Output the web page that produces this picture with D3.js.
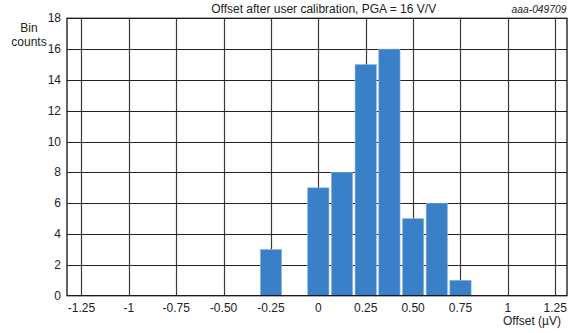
<!DOCTYPE html>
<html><head><meta charset="utf-8">
<script src="https://cdn.jsdelivr.net/npm/d3@7"></script>
<style>body{margin:0;background:#fff}svg{display:block;font-family:"Liberation Sans",Arial,sans-serif}</style>
</head><body><svg id="c" width="572" height="333"></svg>
<script>
const binCenters = [-0.25, 0, 0.125, 0.25, 0.375, 0.5, 0.625, 0.75];
const binCounts = [3, 7, 8, 15, 16, 5, 6, 1];
const binWidth = 0.125;
const xTicks = [-1.25, -1, -0.75, -0.5, -0.25, 0, 0.25, 0.5, 0.75, 1, 1.25];
const xTickLabels = ["-1.25", "-1", "-0.75", "-0.50", "-0.25", "0", "0.25", "0.50", "0.75", "1", "1.25"];
const yTicks = [0, 2, 4, 6, 8, 10, 12, 14, 16, 18];
const title = "Offset after user calibration, PGA = 16 V/V";
const code = "aaa-049709";

const svg = d3.select("#c");
const L = 67, R = 567, T = 18.3, B = 295.7;
const x = d3.scaleLinear().domain([-1.326, 1.312]).range([L, R]);
const y = d3.scaleLinear().domain([0, 18]).range([B, T]);

// grid
svg.append("g").selectAll("line").data(xTicks).join("line")
  .attr("x1", d => Math.round(x(d)) + 0.5).attr("x2", d => Math.round(x(d)) + 0.5)
  .attr("y1", T).attr("y2", B).attr("stroke", "#3a3a3a").attr("stroke-width", 1.2);
svg.append("g").selectAll("line").data(yTicks.slice(1, -1)).join("line")
  .attr("y1", d => Math.round(y(d)) + 0.5).attr("y2", d => Math.round(y(d)) + 0.5)
  .attr("x1", L).attr("x2", R).attr("stroke", "#222").attr("stroke-width", 1.2);

// bars
svg.append("g").selectAll("rect").data(binCenters).join("rect")
  .attr("x", d => x(d - binWidth / 2) + 1.2)
  .attr("width", d => x(d + binWidth / 2) - x(d - binWidth / 2) - 2.4)
  .attr("y", (d, i) => y(binCounts[i]))
  .attr("height", (d, i) => B - y(binCounts[i]))
  .attr("fill", "#3a80c9").attr("stroke", "#8fb8e4").attr("stroke-width", 0.6);

// frame
svg.append("rect").attr("x", L).attr("y", T).attr("width", R - L).attr("height", B - T)
  .attr("fill", "none").attr("stroke", "#111").attr("stroke-width", 1.3);

const fs = 12;
// x axis labels
svg.append("g").selectAll("text").data(xTicks).join("text")
  .attr("x", d => x(d)).attr("y", 311.5).attr("text-anchor", "middle")
  .attr("font-size", fs).attr("fill", "#222").text((d, i) => xTickLabels[i]);
// y axis labels
svg.append("g").selectAll("text").data(yTicks).join("text")
  .attr("x", 61).attr("y", d => y(d) + 4).attr("text-anchor", "end")
  .attr("font-size", fs).attr("fill", "#222").text(d => d);

svg.append("text").attr("x", 29).attr("y", 32).attr("text-anchor", "middle")
  .attr("font-size", fs).attr("fill", "#222").text("Bin");
svg.append("text").attr("x", 29).attr("y", 46).attr("text-anchor", "middle")
  .attr("font-size", fs).attr("fill", "#222").text("counts");
svg.append("text").attr("x", 561).attr("y", 325).attr("text-anchor", "end")
  .attr("font-size", fs).attr("fill", "#222").text("Offset (µV)");
svg.append("text").attr("x", 323.7).attr("y", 13).attr("text-anchor", "middle")
  .attr("font-size", fs).attr("fill", "#222").text(title);
svg.append("text").attr("x", 566.5).attr("y", 13).attr("text-anchor", "end")
  .attr("font-size", 10.3).attr("font-style", "italic").attr("fill", "#222").text(code);
</script></body></html>
